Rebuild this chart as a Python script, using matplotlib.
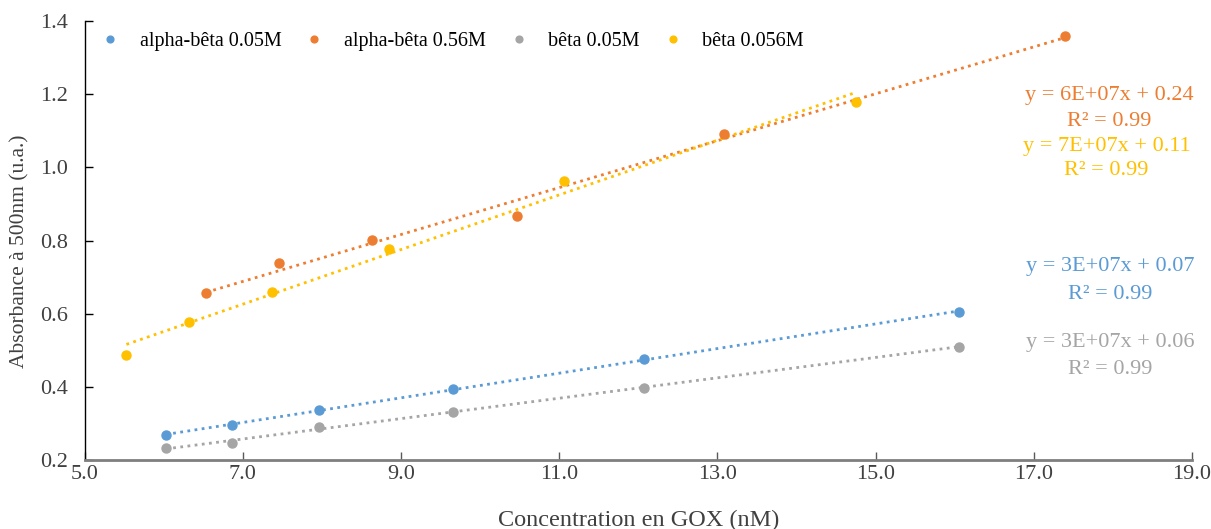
import numpy as np
import matplotlib
matplotlib.use("Agg")
import matplotlib.pyplot as plt

plt.rcParams['font.family'] = ['Liberation Serif', 'DejaVu Serif']

# data
series_names = ['alpha-bêta 0.05M', 'alpha-bêta 0.56M', 'bêta 0.05M', 'bêta 0.056M']
colors = ['#5B9BD5', '#ED7D31', '#A5A5A5', '#FFC000']

x_ab005 = [6.03, 6.87, 7.97, 9.66, 12.07, 16.05]
y_ab005 = [0.269, 0.297, 0.338, 0.396, 0.477, 0.605]

x_ab056 = [6.54, 7.46, 8.64, 10.47, 13.08, 17.39]
y_ab056 = [0.657, 0.738, 0.801, 0.867, 1.091, 1.358]

x_b005 = [6.03, 6.87, 7.97, 9.66, 12.07, 16.05]
y_b005 = [0.233, 0.248, 0.292, 0.333, 0.399, 0.510]

x_b056 = [5.53, 6.32, 7.37, 8.85, 11.06, 14.75]
y_b056 = [0.488, 0.579, 0.659, 0.777, 0.963, 1.178]

eq_labels = ['y = 3E+07x + 0.07', 'y = 6E+07x + 0.24', 'y = 3E+07x + 0.06', 'y = 7E+07x + 0.11']
r2_labels = ['R² = 0.99'] * 4
# label positions (data coords): x, eq line y, R2 line y
eq_pos = [(17.97, 0.728, 0.652), (17.95, 1.197, 1.126), (17.97, 0.521, 0.448), (17.92, 1.058, 0.990)]

xs = [x_ab005, x_ab056, x_b005, x_b056]
ys = [y_ab005, y_ab056, y_b005, y_b056]

fig = plt.figure(figsize=(12.11, 5.29), dpi=100)
ax = fig.add_axes([0.0698, 0.1295, 0.9145, 0.8314])

for x, y, c, name in zip(xs, ys, colors, series_names):
    ax.plot(x, y, 'o', color=c, markersize=6.5, label=name, zorder=3)
    # linear trendline, drawn from min to max x
    p = np.polyfit(x, y, 1)
    xt = np.array([min(x), max(x)])
    ax.plot(xt, np.polyval(p, xt), linestyle=(0, (1, 1.6)), color=c, linewidth=2, zorder=2)

for (px, py1, py2), eq, r2, c in zip(eq_pos, eq_labels, r2_labels, colors):
    ax.text(px, py1, eq, color=c, fontsize=16, ha='center', va='center', clip_on=False)
    ax.text(px, py2, r2, color=c, fontsize=16, ha='center', va='center', clip_on=False)

ax.set_xlim(5, 19)
ax.set_ylim(0.2, 1.4)
ax.set_xticks(np.arange(5, 19.1, 2))
ax.set_yticks(np.arange(0.2, 1.41, 0.2))
ax.xaxis.set_major_formatter(plt.FormatStrFormatter('%.1f'))
ax.yaxis.set_major_formatter(plt.FormatStrFormatter('%.1f'))

ax.spines['top'].set_visible(False)
ax.spines['right'].set_visible(False)
ax.spines['left'].set_color('black')
ax.spines['left'].set_linewidth(1.0)
ax.spines['bottom'].set_color('#7f7f7f')
ax.spines['bottom'].set_linewidth(2.0)
ax.tick_params(axis='x', direction='in', length=6, color='#595959', width=1, labelsize=16, pad=3, labelcolor='#404040')
ax.tick_params(axis='y', direction='in', length=6, color='black', width=1, labelsize=16, pad=12, labelcolor='#404040')

ax.set_xlabel('Concentration en GOX (nM)', fontsize=17.5, color='#404040')
ax.set_ylabel('Absorbance à 500nm (u.a.)', fontsize=15.5, color='#404040')
ax.xaxis.set_label_coords(0.5, -0.112)
ax.yaxis.set_label_coords(-0.050, 0.475)

ax.legend(loc='upper left', ncol=4, frameon=False, fontsize=14.5, markerscale=0.75,
          handletextpad=0.85, columnspacing=1.05, bbox_to_anchor=(-0.004, 1.015), handlelength=1.2)

fig.savefig('out.png', dpi=100)
